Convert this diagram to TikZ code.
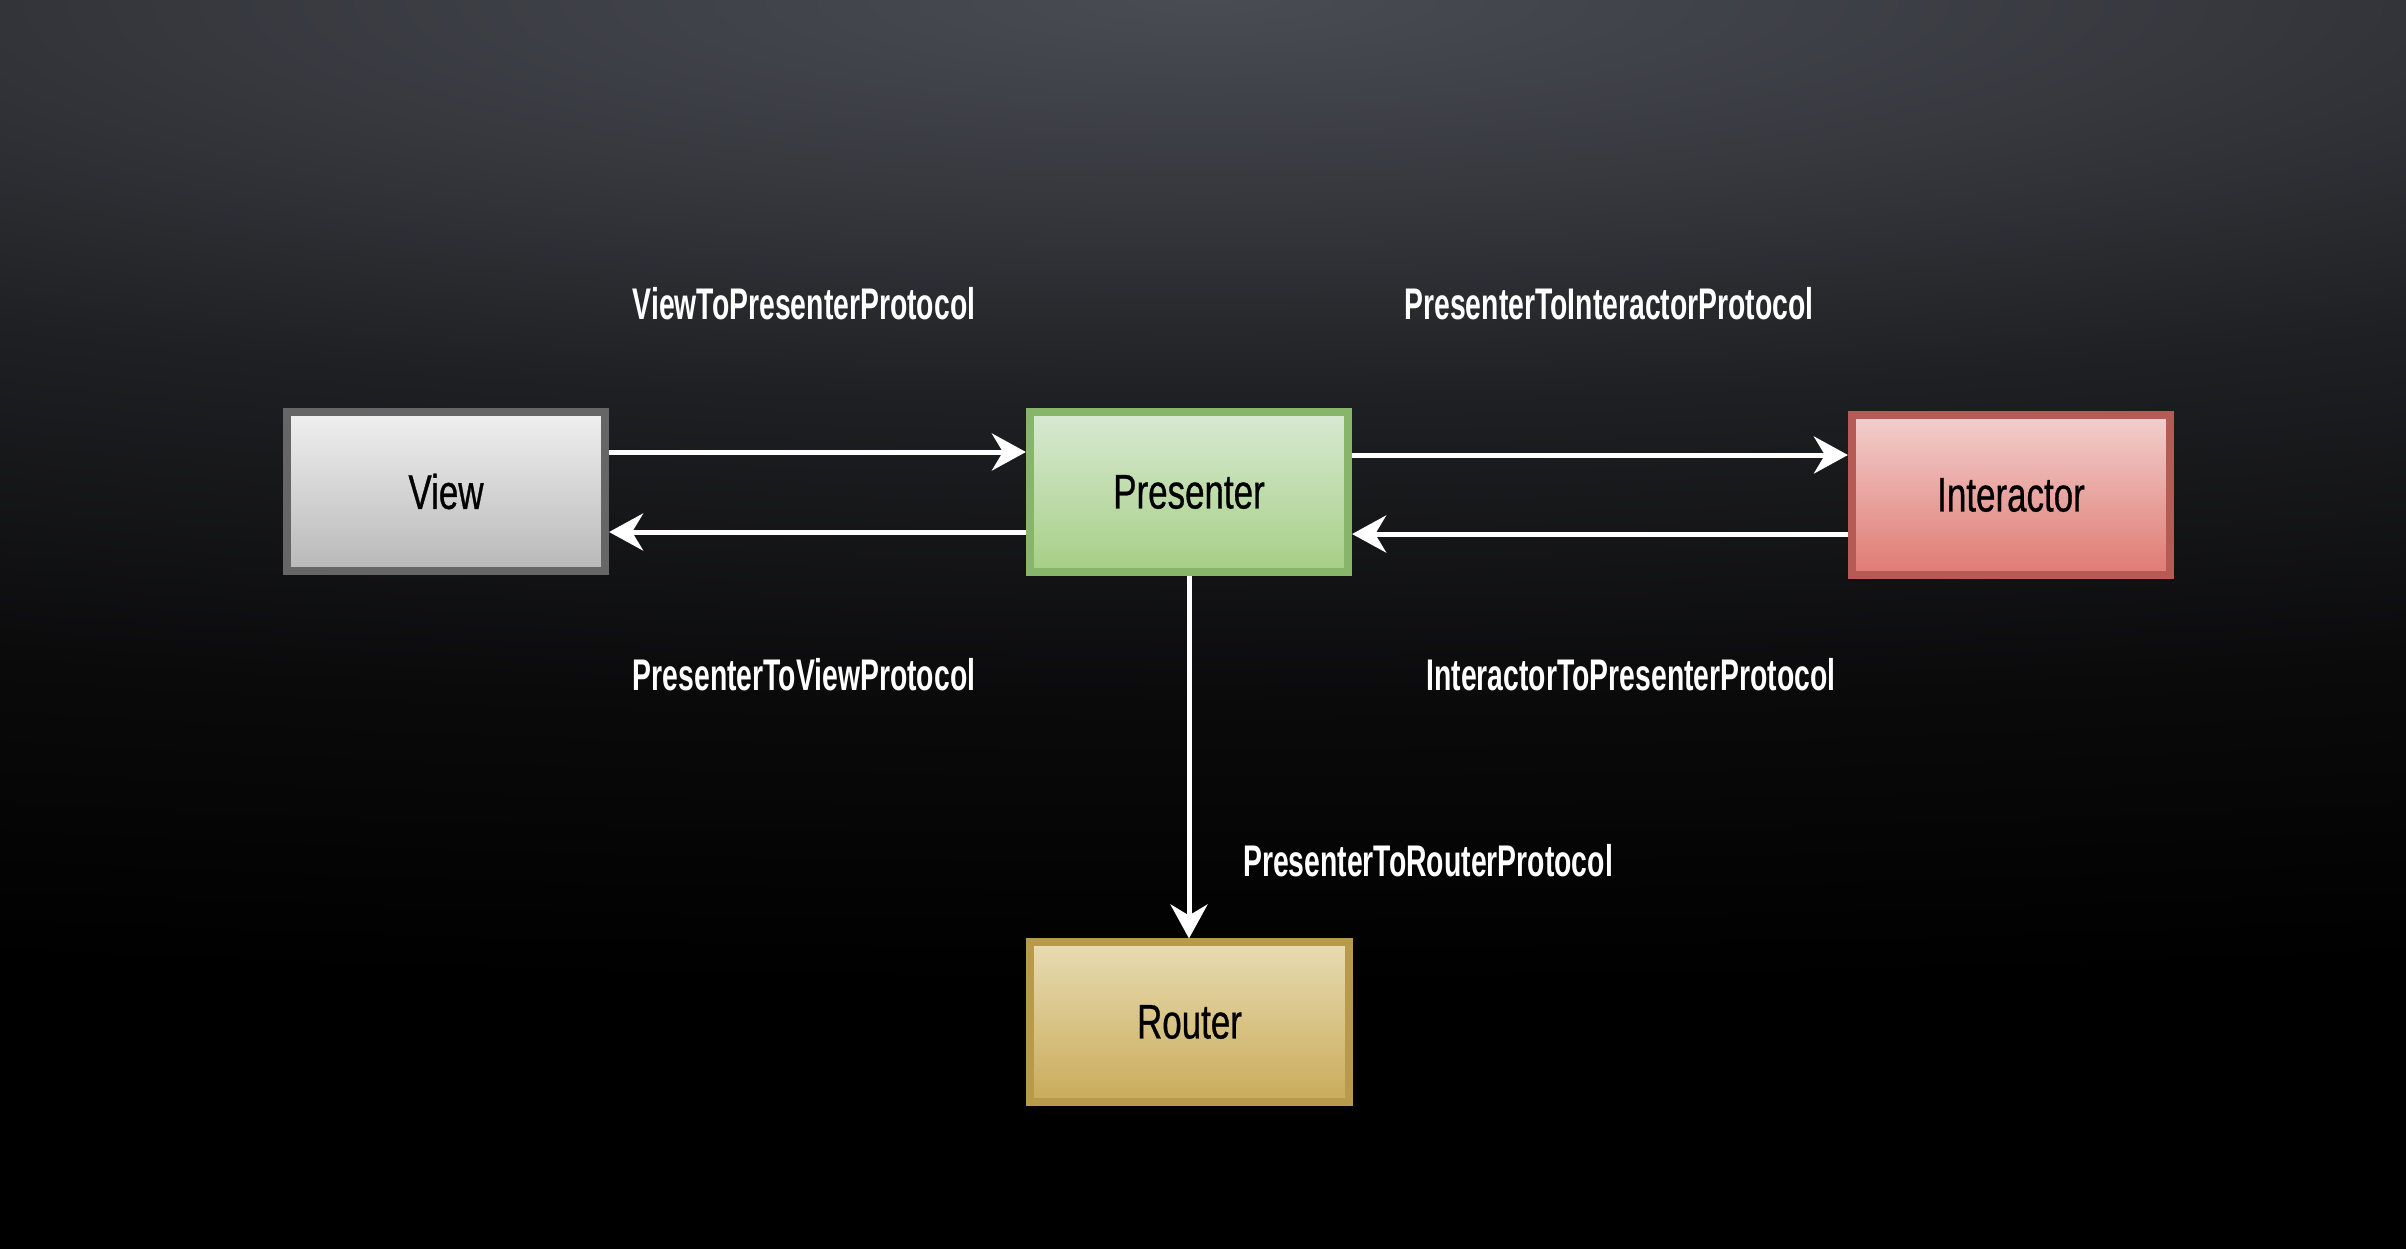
\documentclass[tikz,border=0pt]{standalone}
\usepackage{fontspec}
\setmainfont{Liberation Sans}
\newfontfamily\lblfont[FakeStretch=0.64]{Liberation Sans}
\newfontfamily\boxfont[FakeStretch=0.72,FakeBold=0.6]{Liberation Sans}
\usetikzlibrary{arrows.meta}
\definecolor{bgA}{RGB}{74,76,84}
\definecolor{bgB}{RGB}{54,56,62}
\definecolor{bgC}{RGB}{31,32,35}
\definecolor{bgD}{RGB}{10,10,11}
\definecolor{viewT}{RGB}{240,240,240}
\definecolor{viewB}{RGB}{184,184,184}
\definecolor{viewD}{RGB}{102,102,102}
\definecolor{presT}{RGB}{216,233,211}
\definecolor{presB}{RGB}{166,207,133}
\definecolor{presD}{RGB}{135,181,106}
\definecolor{intT}{RGB}{242,207,205}
\definecolor{intB}{RGB}{224,122,115}
\definecolor{intD}{RGB}{181,90,85}
\definecolor{rtT}{RGB}{232,220,179}
\definecolor{rtB}{RGB}{201,171,90}
\definecolor{rtD}{RGB}{184,154,76}
\pgfdeclareradialshading{bgshade}{\pgfpoint{0bp}{0bp}}{color(0bp)=(bgA); color(4.5bp)=(bgB); color(9bp)=(bgC); color(16bp)=(bgD); color(22.5bp)=(black); color(50bp)=(black)}
\tikzset{
  box/.style={draw, line width=0.08cm, minimum width=3.18cm, minimum height=1.59cm, inner sep=0pt, text=black, font=\boxfont\fontsize{13.8}{16}\selectfont},
  lbl/.style={text=white, inner sep=0pt, font=\lblfont\bfseries\fontsize{12.6}{14}\selectfont},
  arr/.style={draw=white, line width=0.05cm, -{Stealth[length=0.34cm,width=0.37cm,inset=0.11cm]}}
}
\begin{document}
\begin{tikzpicture}[x=0.01cm,y=-0.01cm]
\path[use as bounding box] (0,0) rectangle (2406,1248);
\begin{scope}
\clip (-10,-10) rectangle (2416,1258);
\fill[black] (-10,-10) rectangle (2416,1258);
\shade[shading=bgshade] (-4517,-1100) rectangle (6923,1100);
\end{scope}

\node[box, top color=viewT, bottom color=viewB, draw=viewD] (view) at (446,491.5) {View};
\node[box, top color=presT, bottom color=presB, draw=presD] (pres) at (1189,492) {Presenter};
\node[box, top color=intT, bottom color=intB, draw=intD] (inter) at (2011,495) {Interactor};
\node[box, top color=rtT, bottom color=rtB, draw=rtD] (router) at (1189.5,1022) {Router};

\coordinate (ya) at (0,452);
\coordinate (yb) at (0,532);
\coordinate (yc) at (0,455);
\coordinate (yd) at (0,534);

\draw[arr] (view.east |- ya) -- (pres.west |- ya);
\draw[arr] (pres.west |- yb) -- (view.east |- yb);
\draw[arr] (pres.east |- yc) -- (inter.west |- yc);
\draw[arr] (inter.west |- yd) -- (pres.east |- yd);
\draw[arr] (pres.south) -- (pres.south |- router.north);

\node[lbl] (l1) at (804,304) {ViewToPresenterProtocol};
\node[lbl] (l2) at (1609,304) {PresenterToInteractorProtocol};
\node[lbl] (l3) at (804,675) {PresenterToViewProtocol};
\node[lbl] (l4) at (1631,675) {InteractorToPresenterProtocol};
\node[lbl] (l5) at (1428,861) {PresenterToRouterProtocol};
\end{tikzpicture}
\end{document}
